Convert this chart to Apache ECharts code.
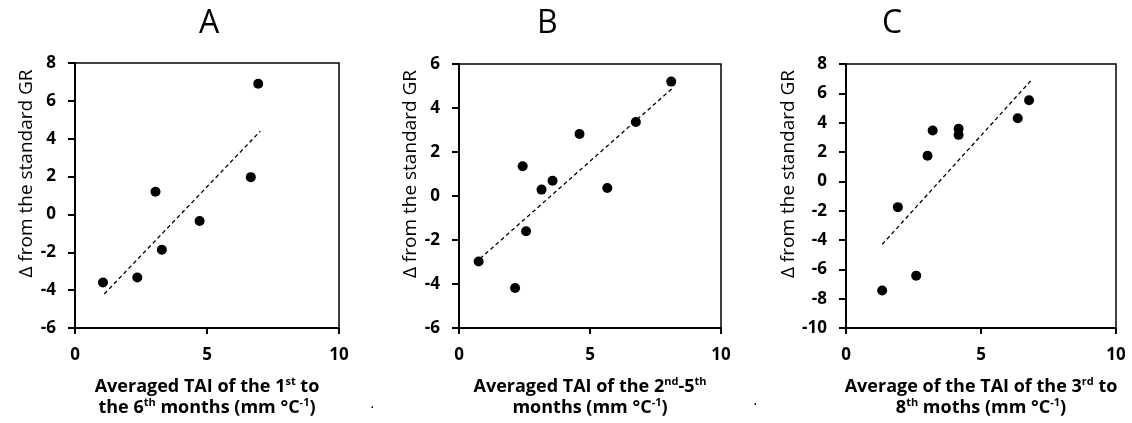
<!DOCTYPE html>
<html><head><meta charset="utf-8">
<script src="https://cdn.jsdelivr.net/npm/echarts@6/dist/echarts.min.js"></script>
<style>html,body{margin:0;padding:0;background:#fff}#c{width:1132px;height:423px}</style>
</head><body><div id="c"></div>
<script>
// Panel A data
const pointsA = [[1.06,-3.6],[2.36,-3.33],[3.05,1.2],[3.29,-1.87],[4.72,-0.35],[6.66,1.97],[6.94,6.9]];
const trendA = [[1.11,-4.2],[7.02,4.4]];
// Panel B data
const pointsB = [[0.75,-2.98],[2.14,-4.18],[2.43,1.35],[2.56,-1.6],[3.15,0.29],[3.57,0.69],[4.6,2.82],[5.66,0.36],[6.75,3.36],[8.1,5.2]];
const trendB = [[0.8,-2.85],[8.15,4.9]];
// Panel C data
const pointsC = [[1.34,-7.44],[1.92,-1.76],[2.6,-6.43],[3.02,1.74],[3.21,3.46],[4.17,3.59],[4.17,3.17],[6.36,4.3],[6.78,5.53]];
const trendC = [[1.34,-4.3],[6.84,6.85]];

const titles = ['A','B','C'];
const yRanges = [[-6,8],[-6,6],[-10,8]];
const xRange = [0,10];
const xTickInterval = 5;
const yTickInterval = 2;
const yName = 'Δ from the standard GR';
const xNames = [
  '{b|Averaged TAI of the 1}{s|st}{b| to}\n{b|the 6}{s|th}{b| months (mm °C}{s|-1}{b|)}',
  '{b|Averaged TAI of the 2}{s|nd}{b|-5}{s|th}\n{b|months (mm °C}{s|-1}{b|)}',
  '{b|Average of the TAI of the 3}{s|rd}{b| to}\n{b|8}{s|th}{b| moths (mm °C}{s|-1}{b|)}'
];

const FONT = '"Open Sans", sans-serif';
const grids = [
  {left:75, top:63, width:264, height:265},
  {left:459, top:64, width:262, height:268},
  {left:846, top:64, width:270, height:272}
];
const titleX = [210, 548, 893];

const chart = echarts.init(document.getElementById('c'), null, {renderer:'canvas'});
const pts = [pointsA, pointsB, pointsC];
const trends = [trendA, trendB, trendC];

const option = {
  animation:false,
  backgroundColor:'#fff',
  grid: grids.map(g => Object.assign({show:true, borderColor:'#000', borderWidth:1.5, backgroundColor:'transparent'}, g)),
  xAxis: grids.map((g,i) => ({
    type:'value', gridIndex:i, min:xRange[0], max:xRange[1], interval:xTickInterval,
    axisLine:{show:true, onZero:false, lineStyle:{color:'#000', width:2}},
    axisTick:{show:true, inside:false, length:6, lineStyle:{color:'#000', width:2}},
    splitLine:{show:false},
    axisLabel:{color:'#000', fontFamily:FONT, fontWeight:700, fontSize:17, margin:19},
    name:xNames[i], nameLocation:'middle', nameGap:48,
    nameTextStyle:{
      color:'#000', lineHeight:21,
      rich:{
        b:{fontFamily:FONT, fontWeight:700, fontSize:18, color:'#000', lineHeight:21},
        s:{fontFamily:FONT, fontWeight:700, fontSize:11, color:'#000', lineHeight:21, padding:[0,0,10,0]}
      }
    }
  })),
  yAxis: grids.map((g,i) => ({
    type:'value', gridIndex:i, min:yRanges[i][0], max:yRanges[i][1], interval:yTickInterval,
    axisLine:{show:true, onZero:false, lineStyle:{color:'#000', width:2}},
    axisTick:{show:true, inside:false, length:7, lineStyle:{color:'#000', width:2}},
    splitLine:{show:false},
    axisLabel:{color:'#000', fontFamily:FONT, fontWeight:700, fontSize:17, margin:19},
    name:yName, nameLocation:'middle', nameGap:39,
    nameTextStyle:{color:'#000', fontFamily:FONT, fontSize:19, padding:[0,0,0,44]}
  })),
  series: [0,1,2].flatMap(i => [
    {type:'scatter', xAxisIndex:i, yAxisIndex:i, data:pts[i], symbol:'circle', symbolSize:10,
     itemStyle:{color:'#000', opacity:1}},
    {type:'line', xAxisIndex:i, yAxisIndex:i, data:trends[i], symbol:'none',
     lineStyle:{color:'#000', width:1.3, type:[4,3]}}
  ]),
  graphic: titles.map((t,i) => ({
    type:'text', left:titleX[i]-11, top:8,
    style:{text:t, font:'32px "Open Sans", sans-serif', fill:'#000'}
  })).concat([
    {type:'text', left:370, top:396, style:{text:'.', font:'16px sans-serif', fill:'#000'}},
    {type:'text', left:753, top:393, style:{text:'.', font:'16px sans-serif', fill:'#000'}}
  ])
};
chart.setOption(option);
</script></body></html>
